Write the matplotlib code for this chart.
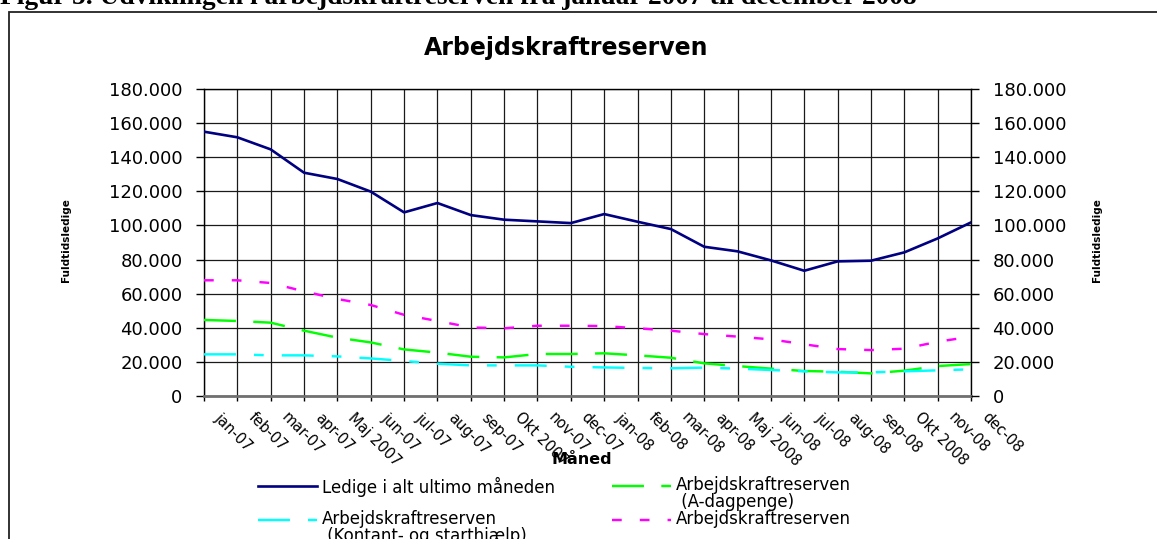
"""Arbejdskraftreserven jan 2007 - dec 2008, redrawn with matplotlib."""
import matplotlib
matplotlib.use("Agg")
import matplotlib.pyplot as plt
from matplotlib.lines import Line2D
from matplotlib.patches import Rectangle
from matplotlib.transforms import ScaledTranslation

W, H = 1157, 539

months = ["jan-07", "feb-07", "mar-07", "apr-07", "Maj 2007", "jun-07",
          "jul-07", "aug-07", "sep-07", "Okt 2007", "nov-07", "dec-07",
          "jan-08", "feb-08", "mar-08", "apr-08", "Maj 2008", "jun-08",
          "jul-08", "aug-08", "sep-08", "Okt 2008", "nov-08", "dec-08"]

ledige = [155100, 151800, 144700, 131000, 127300, 119900, 107700, 113200,
          106100, 103400, 102400, 101400, 106700, 102200, 97900, 87500,
          84800, 79500, 73400, 78900, 79300, 84200, 92400, 101800]

a_dagpenge = [44500, 43900, 42900, 38200, 34100, 31300, 27200, 25300,
              22900, 22500, 24500, 24500, 24900, 23700, 22300, 19000,
              17400, 15900, 14500, 14100, 13100, 14700, 17400, 18600]

kontant = [24300, 24300, 23700, 23700, 23100, 21900, 20400, 18800,
           17800, 17800, 17800, 17000, 16600, 16300, 16100, 16500,
           15900, 15100, 14300, 13700, 13700, 14300, 14900, 15500]

reserve_total = [67800, 67800, 66200, 61300, 56800, 53300, 47500, 43900,
                 40100, 39600, 41100, 41100, 40900, 39600, 38200, 36200,
                 34700, 33100, 30200, 27400, 26800, 27600, 31700, 34700]

yticks = list(range(0, 180001, 20000))

plt.rcParams["font.family"] = ["DejaVu Sans"]
plt.rcParams["lines.scale_dashes"] = False


def fx(px):
    return px / W


def fy(py):
    return 1 - py / H


def fmt(v):
    return f"{v:,.0f}".replace(",", ".")


fig = plt.figure(figsize=(W / 100, H / 100), dpi=100)

# figure caption, cut off at the top edge
fig.text(fx(0), fy(4.5), "Figur 5. Udviklingen i arbejdskraftreserven fra januar 2007 til december 2008",
         family="Liberation Serif", weight="bold", fontsize=19.8, ha="left", va="baseline")

# chart frame (continues past right and bottom edge)
fig.add_artist(Rectangle((fx(9), fy(700)), 2, fy(12) - fy(700), transform=fig.transFigure,
                         fill=False, edgecolor="#222222", lw=1.3))

left, right, top, bottom = 204, 971, 89.3, 395.7
ax = fig.add_axes([fx(left), fy(bottom), (right - left) / W, (bottom - top) / H])

x = list(range(len(months)))
lw = 1.75
ax.plot(x, ledige, color="#000080", lw=1.9, zorder=5)
ax.plot(x, a_dagpenge, color="#00FF00", lw=lw, dashes=(23, 12.5), zorder=3)
ax.plot(x, kontant, color="#00FFFF", lw=lw, dashes=(23, 13, 7, 13), zorder=4)
ax.plot(x, reserve_total, color="#FF00FF", lw=lw, dashes=(7, 13), zorder=3)

ax.set_xlim(0, len(months) - 1)
ax.set_ylim(0, 180000)
ax.grid(True, color="#1a1a1a", lw=0.9)
ax.set_axisbelow(True)
ax.tick_params(axis="y", length=5.5, width=1, pad=10, colors="black")
ax.tick_params(axis="x", length=3.6, width=1, pad=10.5)
ax.set_yticks(yticks)
ax.set_yticklabels([fmt(v) for v in yticks], fontsize=13)
ax.set_xticks(x)
ax.set_xticklabels(months, fontsize=10.5, rotation=-45, ha="left", va="center",
                   rotation_mode="anchor")
# month labels sit a little to the right of their tick, as in the original
for lbl in ax.get_xticklabels():
    lbl.set_transform(lbl.get_transform() + ScaledTranslation(13 / 100, 0, fig.dpi_scale_trans))
for s in ("left", "right", "top"):
    ax.spines[s].set_color("black")
    ax.spines[s].set_linewidth(1)
ax.spines["bottom"].set_color("#707070")
ax.spines["bottom"].set_linewidth(2)

ax2 = ax.twinx()
ax2.set_ylim(0, 180000)
ax2.tick_params(axis="y", length=5.5, width=1, pad=10)
ax2.set_yticks(yticks)
ax2.set_yticklabels([fmt(v) for v in yticks], fontsize=13)
for s in ax2.spines.values():
    s.set_visible(False)

# titles
fig.text(fx(566), fy(48), "Arbejdskraftreserven", fontsize=17, weight="bold",
         ha="center", va="center")
fig.text(fx(66), fy(240), "Fuldtidsledige", fontsize=7.5, weight="bold", rotation=90,
         ha="center", va="center")
fig.text(fx(1097), fy(240), "Fuldtidsledige", fontsize=7.5, weight="bold", rotation=90,
         ha="center", va="center")
fig.text(fx(582), fy(460), "Måned", fontsize=11.5, weight="bold", ha="center", va="center")

# legend
legend_items = [
    (258, 486, "#000080", None, 1.9, "Ledige i alt ultimo måneden"),
    (612, 486, "#00FF00", (23, 12.5), lw, "Arbejdskraftreserven\n (A-dagpenge)"),
    (258, 520, "#00FFFF", (23, 13, 7, 13), lw, "Arbejdskraftreserven\n (Kontant- og starthjælp)"),
    (612, 520, "#FF00FF", (7, 13), lw, "Arbejdskraftreserven"),
]
for x0, y0, col, dash, w, label in legend_items:
    ln = Line2D([fx(x0), fx(x0 + 59)], [fy(y0), fy(y0)], color=col, lw=w,
                transform=fig.transFigure)
    if dash:
        ln.set_dashes(dash)
    fig.add_artist(ln)
    fig.text(fx(x0 + 64), fy(y0 - 9.5), label, fontsize=12, ha="left", va="top",
             linespacing=0.87)

fig.savefig("out.png", dpi=100)
